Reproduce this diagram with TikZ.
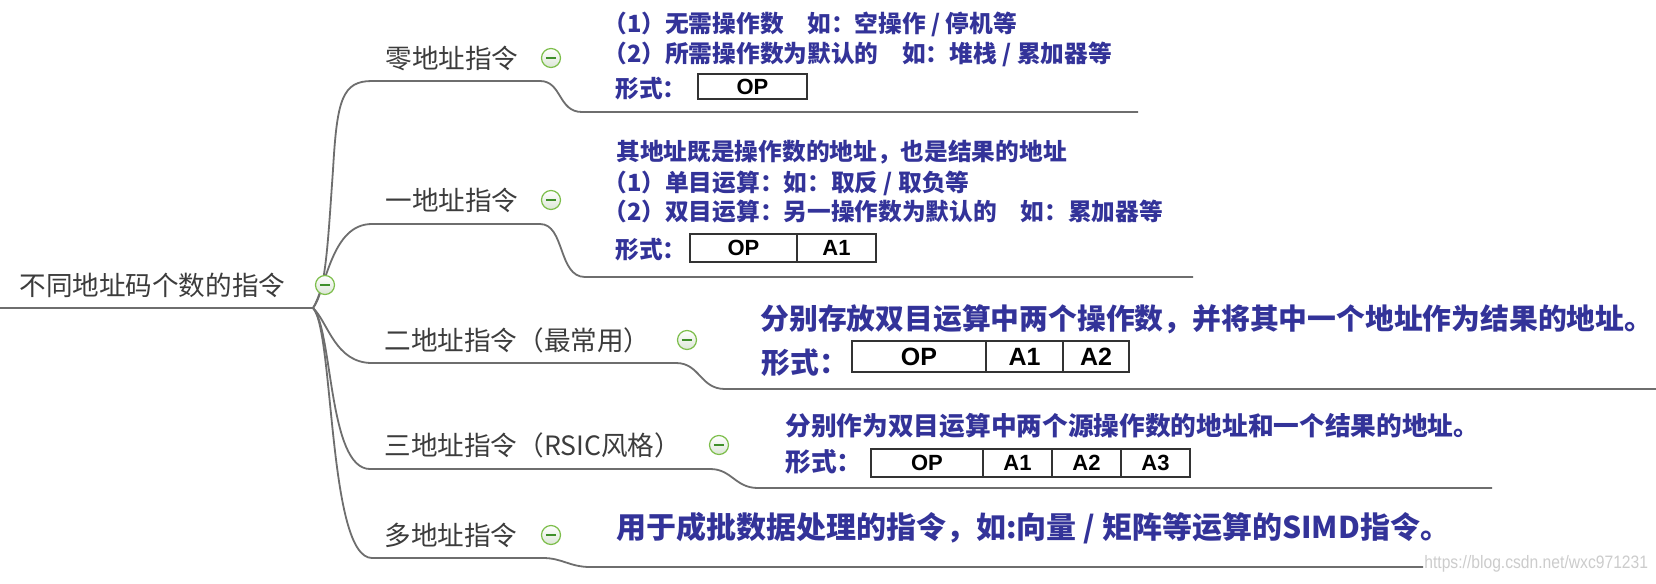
\documentclass[tikz,border=0pt]{standalone}
\usepackage{fontspec}
\newfontfamily\cjk{Noto Sans CJK SC}
\newfontfamily\arial{Liberation Sans}
\definecolor{labgray}{HTML}{3C3C3C}
\definecolor{linegray}{HTML}{6E6E6E}
\definecolor{blutext}{HTML}{333399}
\definecolor{circedge}{HTML}{7DBE4B}
\definecolor{circfill}{HTML}{DCE6D6}
\definecolor{minusgreen}{HTML}{3F8F2A}
\definecolor{wmgray}{HTML}{CCCCCC}
\definecolor{boxline}{HTML}{333333}
\begin{document}
\begin{tikzpicture}[x=0.5pt,y=-0.5pt,
 lbl/.style={font=\cjk\fontsize{13.3}{16}\selectfont, text=labgray, anchor=west, inner sep=0pt, text height=11.7pt, text depth=1.6pt},
 bs/.style={font=\cjk\bfseries\fontsize{11.85}{14}\selectfont, text=blutext, anchor=west, inner sep=0pt, text height=10.4pt, text depth=1.4pt},
 bl/.style={font=\cjk\bfseries\fontsize{14.4}{17}\selectfont, text=blutext, anchor=west, inner sep=0pt, text height=12.7pt, text depth=1.7pt},
 bm/.style={font=\cjk\bfseries\fontsize{12.85}{15}\selectfont, text=blutext, anchor=west, inner sep=0pt, text height=11.3pt, text depth=1.5pt},
 conn/.style={draw=linegray, line width=0.9pt},
 cell/.style={draw=boxline, line width=0.7pt, inner sep=0pt, text=black, font=\arial\bfseries\fontsize{11}{13}\selectfont},
 bigcell/.style={cell, font=\arial\bfseries\fontsize{12.5}{15}\selectfont},
 circ/.style={circle, draw=circedge, line width=0.6pt, minimum size=9.5pt, inner sep=0pt, top color=white, bottom color=circfill,
   path picture={\draw[minusgreen, line width=0.55pt] ([xshift=-2.6pt]path picture bounding box.center) -- ([xshift=2.6pt]path picture bounding box.center);}},
 wmk/.style={font=\arial\fontsize{9}{11}\selectfont, text=wmgray, anchor=west, inner sep=0pt, xscale=0.87}
]
\fill[white] (0,0) rectangle (1656,584);
\useasboundingbox (0,0) rectangle (1656,584);

% connectors
\coordinate (o) at (313,308);
\coordinate (rl) at (0,308);
\draw[conn] (rl) -- (o);
\draw[conn] (o) .. controls (326,292) and (328,240) .. (333,170) .. controls (337,100) and (342,81) .. (372,81)
  -- (540,81) .. controls (562,81) and (558,112) .. (582,112) -- (1138,112);
\draw[conn] (o) .. controls (327,285) and (332,224) .. (372,224)
  -- (540,224) .. controls (565,224) and (558,277) .. (585,277) -- (1193,277);
\draw[conn] (o) .. controls (328,322) and (335,363) .. (372,363)
  -- (676,363) .. controls (700,363) and (700,389) .. (725,389) -- (1656,389);
\draw[conn] (o) .. controls (333,330) and (328,469) .. (370,469)
  -- (710,469) .. controls (732,469) and (735,488) .. (758,488) -- (1492,488);
\draw[conn] (o) .. controls (334,330) and (328,558) .. (372,558)
  -- (543,558) .. controls (562,558) and (570,567) .. (590,567) -- (1423,567);

% labels
\node[lbl] (root) at (19,285) {不同地址码个数的指令};
\node[circ] (rc) at (325,285) {};
\node[lbl] (l0) at (385,58) {零地址指令};
\node[circ] (c0) at (551,58) {};
\node[lbl] (l1) at (385,200) {一地址指令};
\node[circ] (c1) at (551,200) {};
\node[lbl] (l2) at (384,340) {二地址指令（最常用）};
\node[circ] (c2) at (687,340) {};
\node[lbl] (l3) at (384,445) {三地址指令（RSIC风格）};
\node[circ] (c3) at (719,445) {};
\node[lbl] (l4) at (384,535) {多地址指令};
\node[circ] (c4) at (551,535) {};

% block 1
\node[bs] (t01) at (603,23) {（1）无需操作数　如：空操作 / 停机等};
\node[bs] (t02) at (603,53) {（2）所需操作数为默认的　如：堆栈 / 累加器等};
\node[bs] (f0) at (615,88) {形式：};
\node[cell, minimum width=54.5pt, minimum height=12.5pt] (b0op) at (752.5,86.5) {OP};

% block 2
\node[bs] (t10) at (616,151) {其地址既是操作数的地址，也是结果的地址};
\node[bs] (t11) at (603,182) {（1）单目运算：如：取反 / 取负等};
\node[bs] (t12) at (603,211) {（2）双目运算：另一操作数为默认的　如：累加器等};
\node[bs] (f1) at (615,249) {形式：};
\node[cell, minimum width=53.5pt, minimum height=14pt] (b1op) at (743.5,248) {OP};
\node[cell, minimum width=39.5pt, minimum height=14pt] (b1a1) at (836.5,248) {A1};

% block 3
\node[bl] (t20) at (760,318) {分别存放双目运算中两个操作数，并将其中一个地址作为结果的地址。};
\node[bl] (f2) at (761,362) {形式：};
\node[bigcell, minimum width=67pt, minimum height=15.5pt] (b2op) at (919,356.5) {OP};
\node[bigcell, minimum width=38.5pt, minimum height=15.5pt] (b2a1) at (1024.5,356.5) {A1};
\node[bigcell, minimum width=33pt, minimum height=15.5pt] (b2a2) at (1096,356.5) {A2};

% block 4
\node[bm] (t30) at (785,426) {分别作为双目运算中两个源操作数的地址和一个结果的地址。};
\node[bm] (f3) at (785,462) {形式：};
\node[cell, minimum width=56pt, minimum height=14pt] (b3op) at (927,463) {OP};
\node[cell, minimum width=34.5pt, minimum height=14pt] (b3a1) at (1017.5,463) {A1};
\node[cell, minimum width=34.5pt, minimum height=14pt] (b3a2) at (1086.5,463) {A2};
\node[cell, minimum width=34.5pt, minimum height=14pt] (b3a3) at (1155.5,463) {A3};

% block 5
\node[bl, font=\cjk\bfseries\fontsize{15}{18}\selectfont] (t40) at (616,527) {用于成批数据处理的指令，如:向量 / 矩阵等运算的SIMD指令。};

% watermark
\node[wmk] (wm) at (1424,564) {https://blog.csdn.net/wxc971231};
\end{tikzpicture}
\end{document}
